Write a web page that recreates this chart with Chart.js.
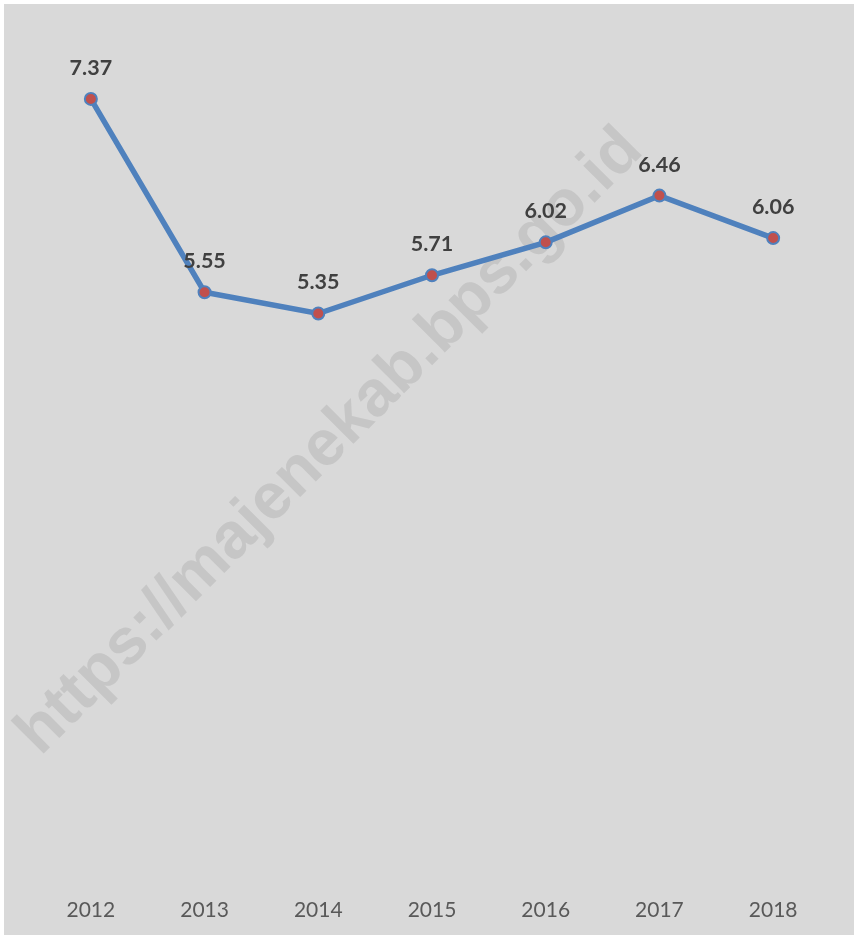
<!DOCTYPE html>
<html>
<head>
<meta charset="utf-8">
<script src="https://cdn.jsdelivr.net/npm/chart.js@4/dist/chart.umd.min.js"></script>
<style>
  body { margin: 0; background: #fff; }
  #wrap { width: 854px; height: 935px; }
</style>
</head>
<body>
<div id="wrap"><canvas id="lineChart" width="854" height="935"></canvas></div>
<script>
const years = ['2012', '2013', '2014', '2015', '2016', '2017', '2018'];
const values = [7.37, 5.55, 5.35, 5.71, 6.02, 6.46, 6.06];
const watermark = 'https://majenekab.bps.go.id';

// grey panel behind everything
const panelBg = {
  id: 'panelBg',
  beforeDraw(chart) {
    const c = chart.ctx;
    c.save();
    c.fillStyle = '#d9d9d9';
    c.fillRect(4, 4, chart.width - 4, chart.height - 4);
    c.restore();
  }
};

// rotated watermark text
const watermarkText = {
  id: 'watermarkText',
  beforeDatasetsDraw(chart) {
    const c = chart.ctx;
    c.save();
    c.translate(330, 442);
    c.rotate(-Math.PI / 4);
    let size = 60;
    c.font = 'bold ' + size + 'px "Liberation Sans", Arial, sans-serif';
    const w = c.measureText(watermark).width;
    size = size * 855 / w;
    c.font = 'bold ' + size + 'px "Liberation Sans", Arial, sans-serif';
    c.fillStyle = '#c6c6c6';
    c.textAlign = 'center';
    c.textBaseline = 'middle';
    c.fillText(watermark, 0, 0);
    c.restore();
  }
};

// value labels above each point
const valueLabels = {
  id: 'valueLabels',
  afterDatasetsDraw(chart) {
    const c = chart.ctx;
    const meta = chart.getDatasetMeta(0);
    c.save();
    c.font = 'bold 21.5px Lato, "Open Sans", sans-serif';
    c.fillStyle = '#404040';
    c.textAlign = 'center';
    c.textBaseline = 'middle';
    meta.data.forEach((pt, i) => {
      c.fillText(values[i].toFixed(2), pt.x, pt.y - 31);
    });
    c.restore();
  }
};

const ctx = document.getElementById('lineChart').getContext('2d');
const lineChart = new Chart(ctx, {
  type: 'line',
  data: {
    labels: years,
    datasets: [{
      data: values,
      borderColor: '#4f81bd',
      borderWidth: 5.5,
      tension: 0,
      pointRadius: 6,
      pointBackgroundColor: '#c0504d',
      pointBorderColor: '#4f81bd',
      pointBorderWidth: 2,
      fill: false
    }]
  },
  options: {
    responsive: false,
    animation: false,
    layout: {
      padding: { left: 34, right: 24, top: 32, bottom: 0 }
    },
    plugins: {
      legend: { display: false },
      tooltip: { enabled: false }
    },
    scales: {
      x: {
        offset: true,
        grid: { display: false, drawTicks: false },
        border: { display: false },
        afterFit(scale) { scale.height -= 4; },
        ticks: {
          padding: 16,
          color: '#595959',
          font: { family: 'Lato, "Open Sans", sans-serif', size: 21 }
        }
      },
      y: {
        display: false,
        min: 0,
        max: 8
      }
    }
  },
  plugins: [panelBg, watermarkText, valueLabels]
});
</script>
</body>
</html>
